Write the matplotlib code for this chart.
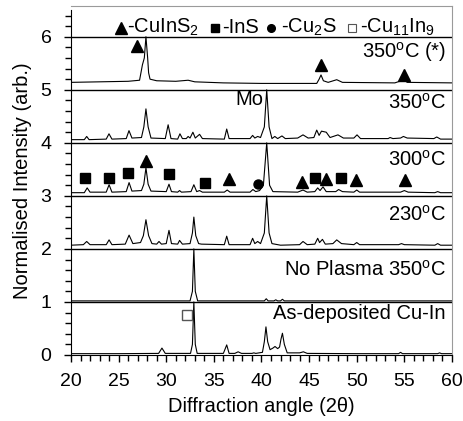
import matplotlib
matplotlib.use("Agg")
import matplotlib.pyplot as plt
from matplotlib.ticker import MultipleLocator

plt.rcParams['font.family'] = ['Liberation Sans', 'DejaVu Sans']
plt.rcParams['mathtext.fontset'] = 'custom'
plt.rcParams['mathtext.rm'] = 'Liberation Sans'
plt.rcParams['mathtext.it'] = 'Liberation Sans:italic'
plt.rcParams['mathtext.bf'] = 'Liberation Sans:bold'

# ---------------- data ----------------
asdep_x = [20, 25, 29.2, 29.55, 29.9, 32.55, 32.75, 32.9, 33.05, 33.25, 36.0, 36.35, 36.6, 37.2, 37.55, 37.9,
           39.0, 39.2, 39.4, 40.1, 40.3, 40.47, 40.65, 40.9, 41.2, 41.42, 41.7, 41.9, 42.05, 42.2, 42.4, 42.7,
           44.0, 44.4, 44.8, 50, 54.4, 54.6, 54.8, 58.5, 58.7, 58.9, 60]
asdep_y = [0.025, 0.025, 0.03, 0.13, 0.03, 0.03, 0.2, 1.0, 0.2, 0.03, 0.03, 0.19, 0.03, 0.03, 0.06, 0.03,
           0.03, 0.04, 0.03, 0.05, 0.25, 0.53, 0.25, 0.1, 0.13, 0.16, 0.12, 0.15, 0.3, 0.41, 0.2, 0.04,
           0.04, 0.06, 0.03, 0.025, 0.025, 0.05, 0.025, 0.025, 0.04, 0.025, 0.025]

noplasma_x = [20, 32.5, 32.75, 32.9, 33.05, 33.3, 40.3, 40.5, 40.7, 41.3, 41.5, 41.7, 42.0, 42.2, 42.4, 60]
noplasma_y = [1.02, 1.02, 1.2, 2.0, 1.2, 1.02, 1.02, 1.06, 1.02, 1.02, 1.04, 1.02, 1.02, 1.05, 1.02, 1.02]

t230_x = [20, 21.3, 21.65, 22.0, 23.7, 24.0, 24.3, 25.7, 26.1, 26.5, 27.3, 27.6, 27.87, 28.15, 28.5, 29.0,
          29.24, 29.5, 30.0, 30.29, 30.55, 31.2, 31.4, 31.7, 32.5, 32.75, 32.9, 33.1, 33.4, 33.7, 36.1, 36.35,
          36.6, 38.8, 39.07, 39.3, 39.6, 39.9, 40.3, 40.55, 40.8, 41.1, 42.0, 44.0, 44.36, 44.8, 45.6, 45.9,
          46.1, 46.4, 46.7, 47.5, 47.9, 48.4, 49.7, 50.0, 50.3, 54.4, 54.7, 55.0, 58.2, 58.5, 58.8, 60]
t230_y = [2.07, 2.08, 2.14, 2.08, 2.08, 2.17, 2.08, 2.09, 2.26, 2.1, 2.12, 2.25, 2.55, 2.25, 2.1, 2.09,
          2.14, 2.09, 2.1, 2.35, 2.1, 2.09, 2.16, 2.09, 2.1, 2.3, 2.6, 2.25, 2.1, 2.09, 2.08, 2.24,
          2.08, 2.08, 2.2, 2.1, 2.14, 2.1, 2.3, 3.0, 2.3, 2.1, 2.07, 2.08, 2.14, 2.08, 2.09, 2.2,
          2.12, 2.18, 2.09, 2.1, 2.17, 2.1, 2.08, 2.12, 2.08, 2.08, 2.1, 2.08, 2.07, 2.1, 2.07, 2.07]

t300_x = [20, 21.4, 21.7, 22.0, 23.7, 24.0, 24.3, 25.8, 26.1, 26.4, 27.4, 27.65, 27.87, 28.1, 28.4, 30.0,
          30.29, 30.55, 31.2, 31.4, 31.6, 32.6, 32.9, 33.2, 33.5, 33.8, 36.1, 36.4, 36.7, 38.8, 39.1, 39.4,
          39.8, 40.2, 40.55, 40.85, 41.2, 43.8, 44.36, 44.8, 45.6, 45.9, 46.15, 46.46, 46.8, 47.8, 48.1, 48.5,
          49.7, 50.0, 50.3, 54.6, 55.0, 55.4, 58.2, 58.5, 58.8, 60]
t300_y = [3.06, 3.06, 3.15, 3.07, 3.07, 3.21, 3.07, 3.08, 3.25, 3.09, 3.1, 3.22, 3.53, 3.22, 3.09, 3.08,
          3.22, 3.08, 3.07, 3.1, 3.07, 3.08, 3.21, 3.08, 3.1, 3.07, 3.07, 3.11, 3.07, 3.07, 3.12, 3.08,
          3.1, 3.2, 4.0, 3.2, 3.08, 3.07, 3.11, 3.07, 3.08, 3.15, 3.1, 3.17, 3.08, 3.08, 3.12, 3.08,
          3.07, 3.11, 3.07, 3.07, 3.1, 3.07, 3.06, 3.08, 3.06, 3.06]

t350_x = [20, 21.4, 21.65, 21.9, 23.7, 23.99, 24.3, 25.8, 26.09, 26.4, 27.4, 27.65, 27.87, 28.1, 28.4, 29.9,
          30.2, 30.5, 31.2, 31.44, 31.7, 32.1, 32.3, 32.5, 32.8, 33.05, 33.5, 33.8, 36.1, 36.35, 36.6, 38.8,
          39.07, 39.3, 39.6, 39.9, 40.3, 40.55, 40.8, 41.1, 41.4, 41.7, 42.15, 42.5, 43.8, 44.36, 44.9, 45.5,
          45.8, 46.05, 46.3, 46.8, 47.2, 48.03, 48.6, 49.7, 50.03, 50.4, 53.3, 53.5, 53.8, 54.6, 54.9, 55.3,
          58.1, 58.4, 58.8, 60]
t350_y = [4.06, 4.06, 4.12, 4.06, 4.07, 4.17, 4.07, 4.08, 4.23, 4.09, 4.1, 4.3, 4.64, 4.3, 4.09, 4.08,
          4.34, 4.08, 4.07, 4.17, 4.08, 4.08, 4.12, 4.09, 4.2, 4.09, 4.16, 4.08, 4.07, 4.26, 4.08, 4.08,
          4.14, 4.09, 4.12, 4.1, 4.3, 5.0, 4.3, 4.08, 4.12, 4.08, 4.13, 4.08, 4.09, 4.15, 4.09, 4.1,
          4.24, 4.14, 4.22, 4.2, 4.1, 4.15, 4.09, 4.09, 4.15, 4.08, 4.08, 4.1, 4.08, 4.09, 4.12, 4.09,
          4.08, 4.11, 4.07, 4.07]

t350s_x = [20, 23, 26, 27.2, 27.5, 27.7, 27.87, 28.05, 28.15, 28.3, 29, 31, 32.3, 33, 36, 40, 45.8, 46.05,
           46.25, 46.5, 47, 47.9, 48.5, 54, 54.5, 54.86, 55.3, 60]
t350s_y = [5.14, 5.15, 5.16, 5.18, 5.47, 5.6, 6.0, 5.6, 5.32, 5.2, 5.17, 5.16, 5.18, 5.15, 5.13, 5.12, 5.12, 5.2,
           5.28, 5.17, 5.14, 5.19, 5.14, 5.13, 5.16, 5.2, 5.14, 5.13]

traces_x = [asdep_x, noplasma_x, t230_x, t300_x, t350_x, t350s_x]
traces_y = [asdep_y, noplasma_y, t230_y, t300_y, t350_y, t350s_y]

separators = [1, 2, 3, 4, 5, 6]

trace_labels = ["As-deposited Cu-In", "No Plasma 350$^{\\rm o}$C", "230$^{\\rm o}$C",
                "300$^{\\rm o}$C", "350$^{\\rm o}$C", "350$^{\\rm o}$C (*)"]
trace_label_y = [0.79, 1.6, 2.64, 3.68, 4.75, 5.72]

# phase markers
cuins2_x = [26.9, 46.25, 54.96, 27.87, 36.6, 44.25, 46.77, 49.92, 55.07]
cuins2_y = [5.83, 5.47, 5.28, 3.66, 3.32, 3.27, 3.32, 3.30, 3.30]
ins_x = [21.47, 23.99, 25.98, 30.29, 34.07, 45.6, 48.35]
ins_y = [3.34, 3.34, 3.43, 3.42, 3.25, 3.34, 3.34]
cu2s_x = [39.63]
cu2s_y = [3.23]
cu11in9_x = [32.18]
cu11in9_y = [0.75]

# key (legend) entries along the top
key_labels = ["-CuInS$_2$", "-InS", "-Cu$_2$S", "-Cu$_{11}$In$_9$"]
key_marker_x = [25.2, 35.1, 41.05, 49.5]
key_text_x = [25.9, 35.85, 42.0, 50.35]
key_y = 6.17

# ---------------- figure ----------------
fig = plt.figure(figsize=(4.63, 4.21), dpi=100)
ax = fig.add_axes([0.1533, 0.1568, 0.8229, 0.829])

for xs, ys in zip(traces_x, traces_y):
    ax.plot(xs, ys, color='black', lw=0.8)
for s in separators:
    ax.axhline(s, color='black', lw=1.0)

FS = 14.5
for lab, ly in zip(trace_labels, trace_label_y):
    ax.text(59.35, ly, lab, ha='right', va='center', fontsize=FS)
ax.text(40.25, 4.81, "Mo", ha='right', va='center', fontsize=FS)

ax.plot(cuins2_x, cuins2_y, ls='none', marker='^', ms=8.5, color='black')
ax.plot(ins_x, ins_y, ls='none', marker='s', ms=6.5, color='black')
ax.plot(cu2s_x, cu2s_y, ls='none', marker='o', ms=6.5, color='black')
ax.plot(cu11in9_x, cu11in9_y, ls='none', marker='s', ms=6.5, mfc='white', mec='#555555', mew=1)

# key
key_styles = [dict(marker='^', ms=9, color='black'),
              dict(marker='s', ms=5.5, color='black'),
              dict(marker='o', ms=5.5, color='black'),
              dict(marker='s', ms=5.5, mfc='white', mec='#555555', mew=0.8)]
for mx, st in zip(key_marker_x, key_styles):
    ax.plot([mx], [key_y], ls='none', clip_on=False, **st)
for tx, lab in zip(key_text_x, key_labels):
    ax.text(tx, key_y, lab, ha='left', va='center', fontsize=FS)

ax.set_xlim(20, 60)
ax.set_ylim(0, 6.58)
ax.xaxis.set_major_locator(MultipleLocator(5))
ax.xaxis.set_minor_locator(MultipleLocator(1))
ax.yaxis.set_minor_locator(MultipleLocator(0.2))
ax.set_yticks([0, 1, 2, 3, 4, 5, 6])
ax.tick_params(which='major', direction='out', length=5, width=1, labelsize=14)
ax.tick_params(axis='x', which='major', pad=8)
ax.tick_params(axis='y', which='major', pad=9)
ax.tick_params(which='minor', direction='out', length=4, width=1)
ax.spines['left'].set_bounds(0, 6.5)
ax.spines['top'].set_color('#9a9a9a')
ax.spines['right'].set_color('#9a9a9a')

ax.set_xlabel("Diffraction angle (2\u03b8)", fontsize=FS, labelpad=5)
ax.set_ylabel("Normalised Intensity (arb.)", fontsize=FS, labelpad=6)

fig.savefig("out.png", dpi=100)
